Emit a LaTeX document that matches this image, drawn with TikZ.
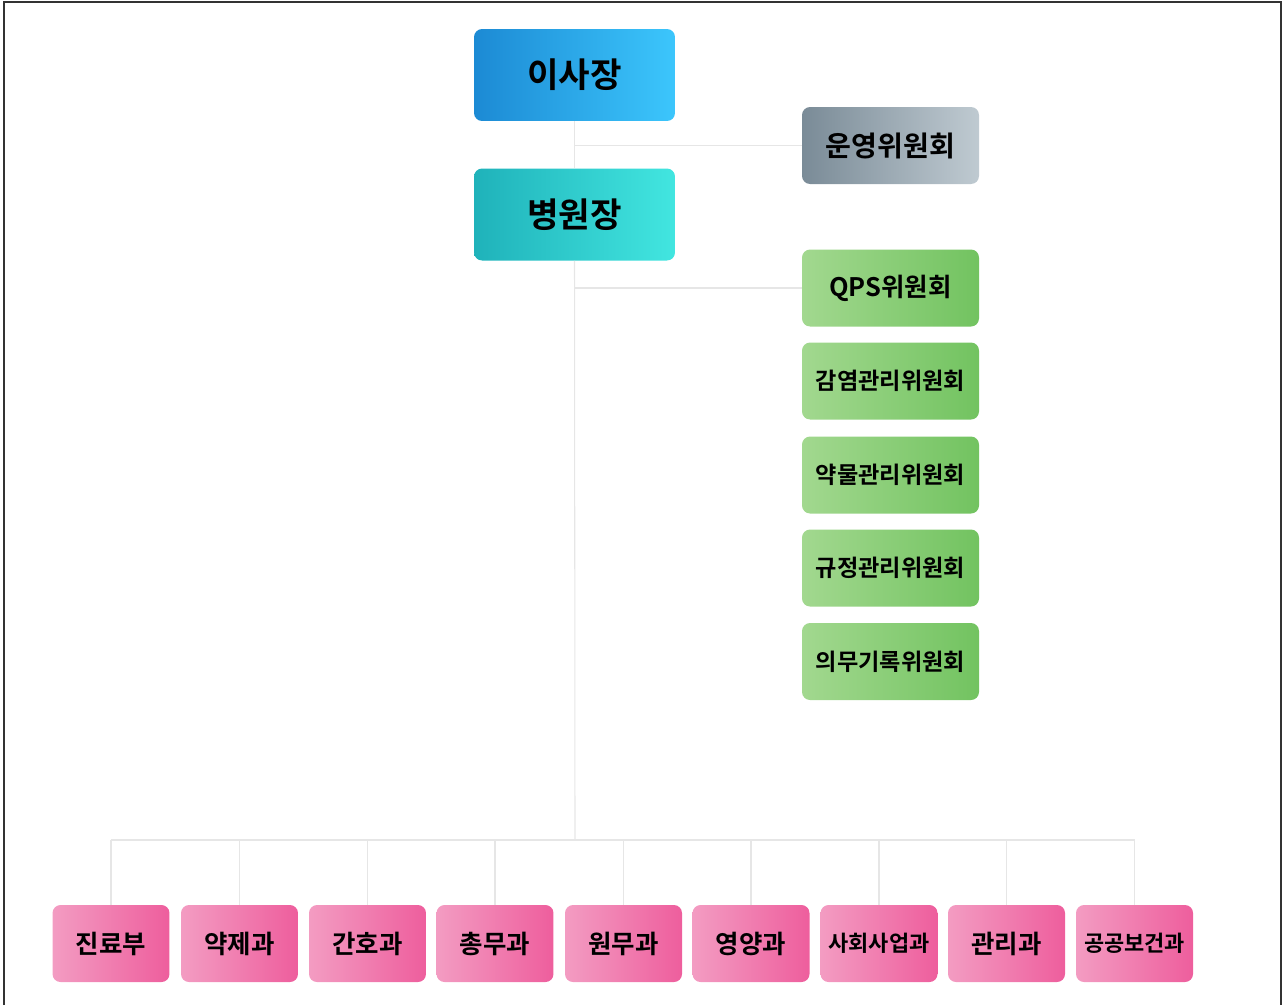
\documentclass[tikz,border=0pt]{standalone}
\usepackage{fontspec}
\usepackage{tikz}
\newfontfamily\krfont{Noto Sans CJK KR Bold}

\definecolor{blueL}{HTML}{1C8AD4}
\definecolor{blueR}{HTML}{3CC6FC}
\definecolor{tealL}{HTML}{1FB2BA}
\definecolor{tealR}{HTML}{42E6E0}
\definecolor{grayL}{HTML}{7A8B97}
\definecolor{grayR}{HTML}{BFCAD1}
\definecolor{greenL}{HTML}{A2D88F}
\definecolor{greenR}{HTML}{72C360}
\definecolor{pinkL}{HTML}{F39CC2}
\definecolor{pinkR}{HTML}{EE5E9D}
\definecolor{linegray}{HTML}{E6E6E6}

\tikzset{
  box/.style={rounded corners=0.16cm, inner sep=0pt, font=\krfont},
  topbox/.style={box, minimum width=4.02cm, minimum height=1.84cm, font=\krfont\fontsize{19.5}{22}\selectfont},
  combox/.style={box, minimum width=3.54cm, minimum height=1.54cm},
  deptbox/.style={box, minimum width=2.34cm, minimum height=1.54cm},
  conn/.style={draw=linegray, line width=0.6pt}
}

\begin{document}
\begin{tikzpicture}[x=0.02cm, y=-0.02cm]
			\useasboundingbox (0,0) rectangle (1283,1005);
			\draw [line width=1.2pt, black!80] (4,1005) -- (4,2) -- (1281,2) -- (1281,1005);

			% top of the chart
			\node [topbox, left color=blueL, right color=blueR] (ceo) at (574.5,75) {이사장};
			\node [topbox, left color=tealL, right color=tealR] (dir) at (574.5,214.5) {병원장};

			% committees
			\node [combox, left color=grayL, right color=grayR, font=\krfont\fontsize{16}{18}\selectfont] (opc) at (890.5,145.5) {운영위원회};
			\node [combox, left color=greenL, right color=greenR, font=\krfont\fontsize{14.5}{16}\selectfont] (qps) at (890.5,288) {QPS위원회};
			\node [combox, left color=greenL, right color=greenR, font=\krfont\fontsize{13.2}{15}\selectfont] (inf) at (890.5,381) {감염관리위원회};
			\node [combox, left color=greenL, right color=greenR, font=\krfont\fontsize{13.2}{15}\selectfont] (drg) at (890.5,475) {약물관리위원회};
			\node [combox, left color=greenL, right color=greenR, font=\krfont\fontsize{13.2}{15}\selectfont] (reg) at (890.5,568) {규정관리위원회};
			\node [combox, left color=greenL, right color=greenR, font=\krfont\fontsize{13.2}{15}\selectfont] (rec) at (890.5,661.5) {의무기록위원회};

			% departments
			\node [deptbox, left color=pinkL, right color=pinkR, font=\krfont\fontsize{14.5}{16}\selectfont] (med) at (111,943.5) {진료부};
			\node [deptbox, left color=pinkL, right color=pinkR, font=\krfont\fontsize{14.5}{16}\selectfont] (pha) at (239.5,943.5) {약제과};
			\node [deptbox, left color=pinkL, right color=pinkR, font=\krfont\fontsize{14.5}{16}\selectfont] (nur) at (367.5,943.5) {간호과};
			\node [deptbox, left color=pinkL, right color=pinkR, font=\krfont\fontsize{14.5}{16}\selectfont] (gen) at (495,943.5) {총무과};
			\node [deptbox, left color=pinkL, right color=pinkR, font=\krfont\fontsize{14.5}{16}\selectfont] (adm) at (623.5,943.5) {원무과};
			\node [deptbox, left color=pinkL, right color=pinkR, font=\krfont\fontsize{14.5}{16}\selectfont] (nut) at (751,943.5) {영양과};
			\node [deptbox, left color=pinkL, right color=pinkR, font=\krfont\fontsize{12.5}{14}\selectfont] (soc) at (879,943.5) {사회사업과};
			\node [deptbox, left color=pinkL, right color=pinkR, font=\krfont\fontsize{14.5}{16}\selectfont] (mng) at (1006.5,943.5) {관리과};
			\node [deptbox, left color=pinkL, right color=pinkR, font=\krfont\fontsize{12.5}{14}\selectfont] (pub) at (1134.5,943.5) {공공보건과};

			\coordinate (bus) at (575,840);

			% connectors
			\draw [conn] (ceo.south) -- (dir.north);
			\draw [conn] (ceo.south) |- (opc.west);
			\draw [conn] (dir.south) |- (qps.west);
			\draw [conn] (dir.south) -- (bus);
			\draw [conn] (med.north |- bus) -- (pub.north |- bus);
			\draw [conn] (med.north) -- (med.north |- bus);
			\draw [conn] (pha.north) -- (pha.north |- bus);
			\draw [conn] (nur.north) -- (nur.north |- bus);
			\draw [conn] (gen.north) -- (gen.north |- bus);
			\draw [conn] (adm.north) -- (adm.north |- bus);
			\draw [conn] (nut.north) -- (nut.north |- bus);
			\draw [conn] (soc.north) -- (soc.north |- bus);
			\draw [conn] (mng.north) -- (mng.north |- bus);
			\draw [conn] (pub.north) -- (pub.north |- bus);
		\end{tikzpicture}
\end{document}
